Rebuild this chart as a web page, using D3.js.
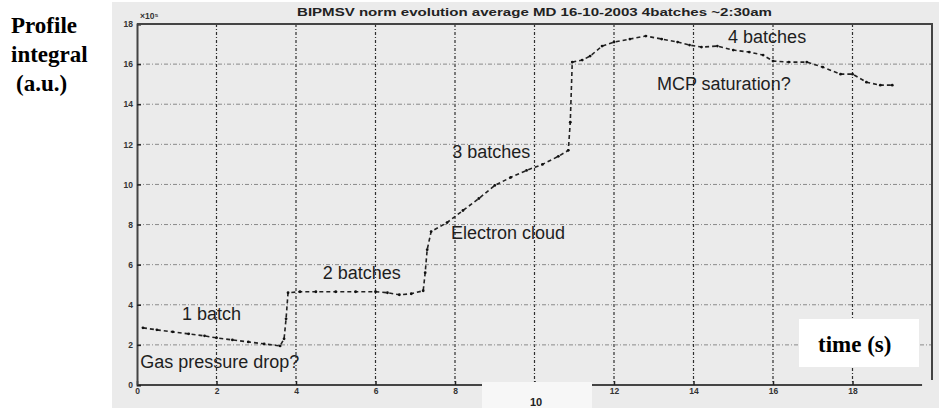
<!DOCTYPE html>
<html lang="en">
<head>
<meta charset="UTF-8">
<title>BIPMSV norm evolution</title>
<script src="https://d3js.org/d3.v7.min.js"></script>
<style>
    body { margin: 0; background: #fff; }
    .grid-x { stroke: #2e2e2e; stroke-width: 1.2; stroke-dasharray: 3,2,1,2; }
    .grid-y { stroke: #8a8a8a; stroke-width: 1; stroke-dasharray: 4,2,1,2; }
    .tick-lbl { font: bold 8.5px "Liberation Sans", Arial, sans-serif; fill: #333; }
    .note { font: 18px "Liberation Sans", Arial, sans-serif; fill: #1e1e1e; }
    .serif-b { font-family: "Liberation Serif", "Times New Roman", serif; font-weight: bold; fill: #000; }
</style>
</head>
<body>
<div id="chart"></div>
<script>
    // data, integral in units of 1e5
    const timeS = [0.15, 0.5, 0.9, 1.3, 1.7, 2.0, 2.4, 2.8, 3.2, 3.6, 3.7, 3.75,
        3.8, 4.1, 4.5, 5.0, 5.5, 6.0, 6.3, 6.6, 6.9, 7.2, 7.25, 7.3,
        7.4, 7.8, 8.2, 8.6, 9.0, 9.4, 9.8, 10.2, 10.6, 10.85, 10.9,
        10.95, 11.2, 11.4, 11.7, 12.0, 12.4, 12.8, 13.2, 13.6, 13.9, 14.2, 14.6,
        15.0, 15.4, 15.75, 16.0, 16.4, 16.85, 17.25, 17.7, 18.0, 18.35, 18.7, 19.0];
    const integral = [2.85, 2.75, 2.65, 2.55, 2.45, 2.35, 2.25, 2.15, 2.05, 1.95, 2.3, 3.3,
        4.6, 4.65, 4.65, 4.65, 4.65, 4.65, 4.6, 4.5, 4.55, 4.7, 5.6, 6.75,
        7.65, 8.1, 8.7, 9.3, 9.95, 10.35, 10.7, 11.0, 11.4, 11.7, 13.1,
        16.1, 16.2, 16.4, 16.9, 17.1, 17.25, 17.4, 17.25, 17.1, 16.95, 16.85, 16.9,
        16.7, 16.6, 16.45, 16.15, 16.1, 16.1, 15.85, 15.5, 15.5, 15.1, 14.95, 14.95];

    const xTicks = [0, 2, 4, 6, 8, 10, 12, 14, 16, 18];
    const yTicks = [0, 2, 4, 6, 8, 10, 12, 14, 16, 18];
    const xGrid = [2, 4, 6, 8, 10, 12, 14, 16, 18];
    const yGrid = [2, 4, 6, 8, 10, 12, 14, 16];

    const notes = [
        {t: "1 batch", x: 1.13, y: 3.24},
        {t: "Gas pressure drop?", x: 0.08, y: 0.85},
        {t: "2 batches", x: 4.67, y: 5.3},
        {t: "Electron cloud", x: 7.9, y: 7.3},
        {t: "3 batches", x: 7.93, y: 11.3},
        {t: "MCP saturation?", x: 13.08, y: 14.7},
        {t: "4 batches", x: 14.87, y: 17.05}
    ];
    const titleText = "BIPMSV norm evolution average MD 16-10-2003 4batches ~2:30am";

    const width = 941, height = 408;
    const svg = d3.select("#chart").append("svg")
        .attr("width", width)
        .attr("height", height);

    const x = d3.scaleLinear().domain([0, 20]).range([137, 932]);
    const y = d3.scaleLinear().domain([0, 18]).range([385, 24]);

    // grey matlab figure background
    svg.append("rect").attr("x", 112).attr("y", 2).attr("width", 827).attr("height", 406)
        .attr("fill", "#ebebeb");

    // grid
    svg.selectAll(".grid-x").data(xGrid).enter().append("line")
        .attr("class", "grid-x")
        .attr("x1", d => x(d)).attr("x2", d => x(d))
        .attr("y1", y(18)).attr("y2", y(0));
    svg.selectAll(".grid-y").data(yGrid).enter().append("line")
        .attr("class", "grid-y")
        .attr("x1", x(0)).attr("x2", x(20))
        .attr("y1", d => y(d)).attr("y2", d => y(d));

    // axes
    const xAxis = d3.axisBottom(x).tickValues(xTicks).tickSize(-4).tickPadding(3).tickFormat(d3.format("d"));
    const yAxis = d3.axisLeft(y).tickValues(yTicks).tickSize(-4).tickPadding(4).tickFormat(d3.format("d"));
    const gx = svg.append("g").attr("transform", "translate(0," + y(0) + ")").call(xAxis);
    const gy = svg.append("g").attr("transform", "translate(" + x(0) + ",0)").call(yAxis);
    [gx, gy].forEach(g => {
        g.select(".domain").attr("stroke", "#444").attr("stroke-width", 2);
        g.selectAll(".tick line").attr("stroke", "#222").attr("stroke-width", 1.5);
        g.selectAll(".tick text").attr("class", "tick-lbl");
    });
    gx.select(".domain").attr("d", "M" + x(0) + ",0H" + x(19.75));
    // box top + right
    svg.append("path")
        .attr("d", "M" + x(0) + "," + y(18) + "H" + x(20) + "V" + (y(0) - 5))
        .attr("fill", "none").attr("stroke", "#444").attr("stroke-width", 2);

    svg.append("text").attr("class", "tick-lbl").attr("x", x(0) + 3).attr("y", y(18) - 5)
        .text("×10⁵");

    // title
    svg.append("text").attr("x", 297).attr("y", 16)
        .attr("textLength", 475).attr("lengthAdjust", "spacingAndGlyphs")
        .style("font", "bold 11px 'Liberation Sans', Arial, sans-serif").attr("fill", "#222")
        .text(titleText);

    // curve
    const pts = timeS.map((t, i) => [t, integral[i]]);
    const line = d3.line().x(d => x(d[0])).y(d => y(d[1]));
    svg.append("path").datum(pts)
        .attr("d", line)
        .attr("fill", "none").attr("stroke", "#222").attr("stroke-width", 1.6)
        .attr("stroke-dasharray", "4,3");
    svg.selectAll(".pt").data(pts).enter().append("circle")
        .attr("class", "pt")
        .attr("cx", d => x(d[0])).attr("cy", d => y(d[1])).attr("r", 1.4)
        .attr("fill", "#111");

    // annotations
    svg.selectAll(".note").data(notes).enter().append("text")
        .attr("class", "note")
        .attr("x", d => x(d.x)).attr("y", d => y(d.y))
        .text(d => d.t);

    // pasted white patches
    svg.append("rect").attr("x", 482).attr("y", 382).attr("width", 110).attr("height", 26)
        .attr("fill", "#f7f7f7");
    svg.append("text").attr("x", 536).attr("y", 406).attr("text-anchor", "middle")
        .style("font", "bold 11px 'Liberation Sans', Arial, sans-serif").attr("fill", "#222")
        .text("10");
    svg.append("rect").attr("x", 799).attr("y", 319).attr("width", 120).attr("height", 48)
        .attr("fill", "#fff");
    svg.append("text").attr("class", "serif-b").attr("x", 818).attr("y", 352)
        .style("font-size", "23px").text("time (s)");

    // y label
    const ylab = svg.append("text").attr("class", "serif-b").style("font-size", "23px");
    ylab.append("tspan").attr("x", 11).attr("y", 33).text("Profile");
    ylab.append("tspan").attr("x", 11).attr("y", 62).text("integral");
    ylab.append("tspan").attr("x", 16).attr("y", 91).text("(a.u.)");
</script>
</body>
</html>
